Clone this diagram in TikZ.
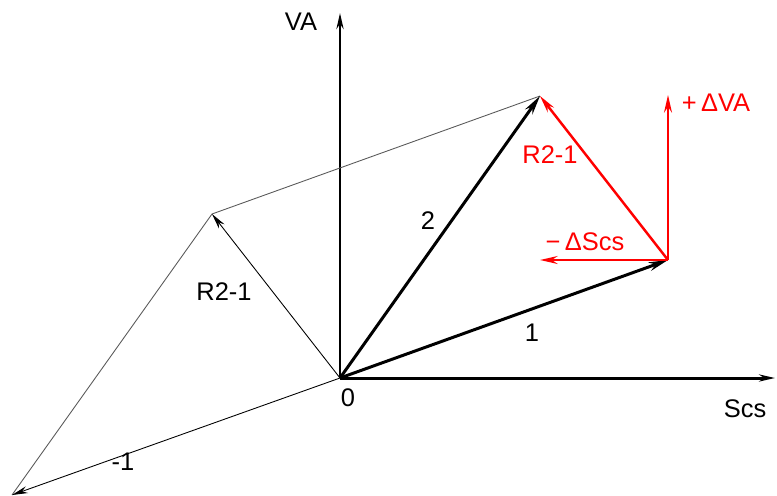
\documentclass[tikz,border=0pt]{standalone}
\usepackage{fontspec}
\setmainfont{Liberation Sans}
\usetikzlibrary{arrows.meta}
\definecolor{vecred}{HTML}{FF0000}
\tikzset{
  axis/.style={line width=1.7pt,-{Stealth[length=9pt,width=4pt]}},
  bigvec/.style={line width=1.7pt,-{Stealth[length=11pt,width=5pt]}},
  thinvec/.style={line width=0.5pt,-{Stealth[length=9pt,width=4pt]}},
  redvec/.style={vecred,line width=1.4pt,-{Stealth[length=10pt,width=4.5pt]}},
  lbl/.style={font=\fontsize{14.5}{17}\selectfont,inner sep=0pt},
}
\begin{document}
\begin{tikzpicture}[x=0.02cm,y=0.02cm]
\useasboundingbox (0,0) rectangle (777,495);
\coordinate (O) at (340,117);
\coordinate (xend) at (775,117);
\coordinate (yend) at (340,482);
\coordinate (P1) at (668,235);
\coordinate (P2) at (540,399);
\coordinate (M1) at (12,0);
\coordinate (R) at (212,281);
\coordinate (dVA) at (668,400);
\coordinate (dS) at (540,235);
% axes
\draw[axis] (O) -- (xend);
\draw[axis] (O) -- (yend);
% parallelogram sides
\draw[line width=0.5pt,gray!70!black] (M1) -- (R) -- (P2);
% vectors
\draw[bigvec] (O) -- (P1);
\draw[bigvec] (O) -- (P2);
\draw[thinvec] (O) -- (M1);
\draw[thinvec] (O) -- (R);
% red
\draw[redvec] (P1) -- (P2);
\draw[redvec] (P1) -- (dVA);
\draw[redvec] (P1) -- (dS);
% labels
\node[lbl] (lVA) at (301,473) {VA};
\node[lbl] (lScs) at (745,86) {Scs};
\node[lbl] (l0) at (348,97) {0};
\node[lbl] (l1) at (532,162) {1};
\node[lbl] (l2) at (428,274) {2};
\node[lbl] (lm1) at (123,33) {-1};
\node[lbl] (lR) at (224,203) {R2-1};
\node[lbl,vecred] (lRr) at (550,340) {R2-1};
\node[lbl,vecred] (ldVA) at (716,392) {+\,ΔVA};
\node[lbl,vecred] (ldS) at (585,253) {−\,ΔScs};
\end{tikzpicture}
\end{document}
